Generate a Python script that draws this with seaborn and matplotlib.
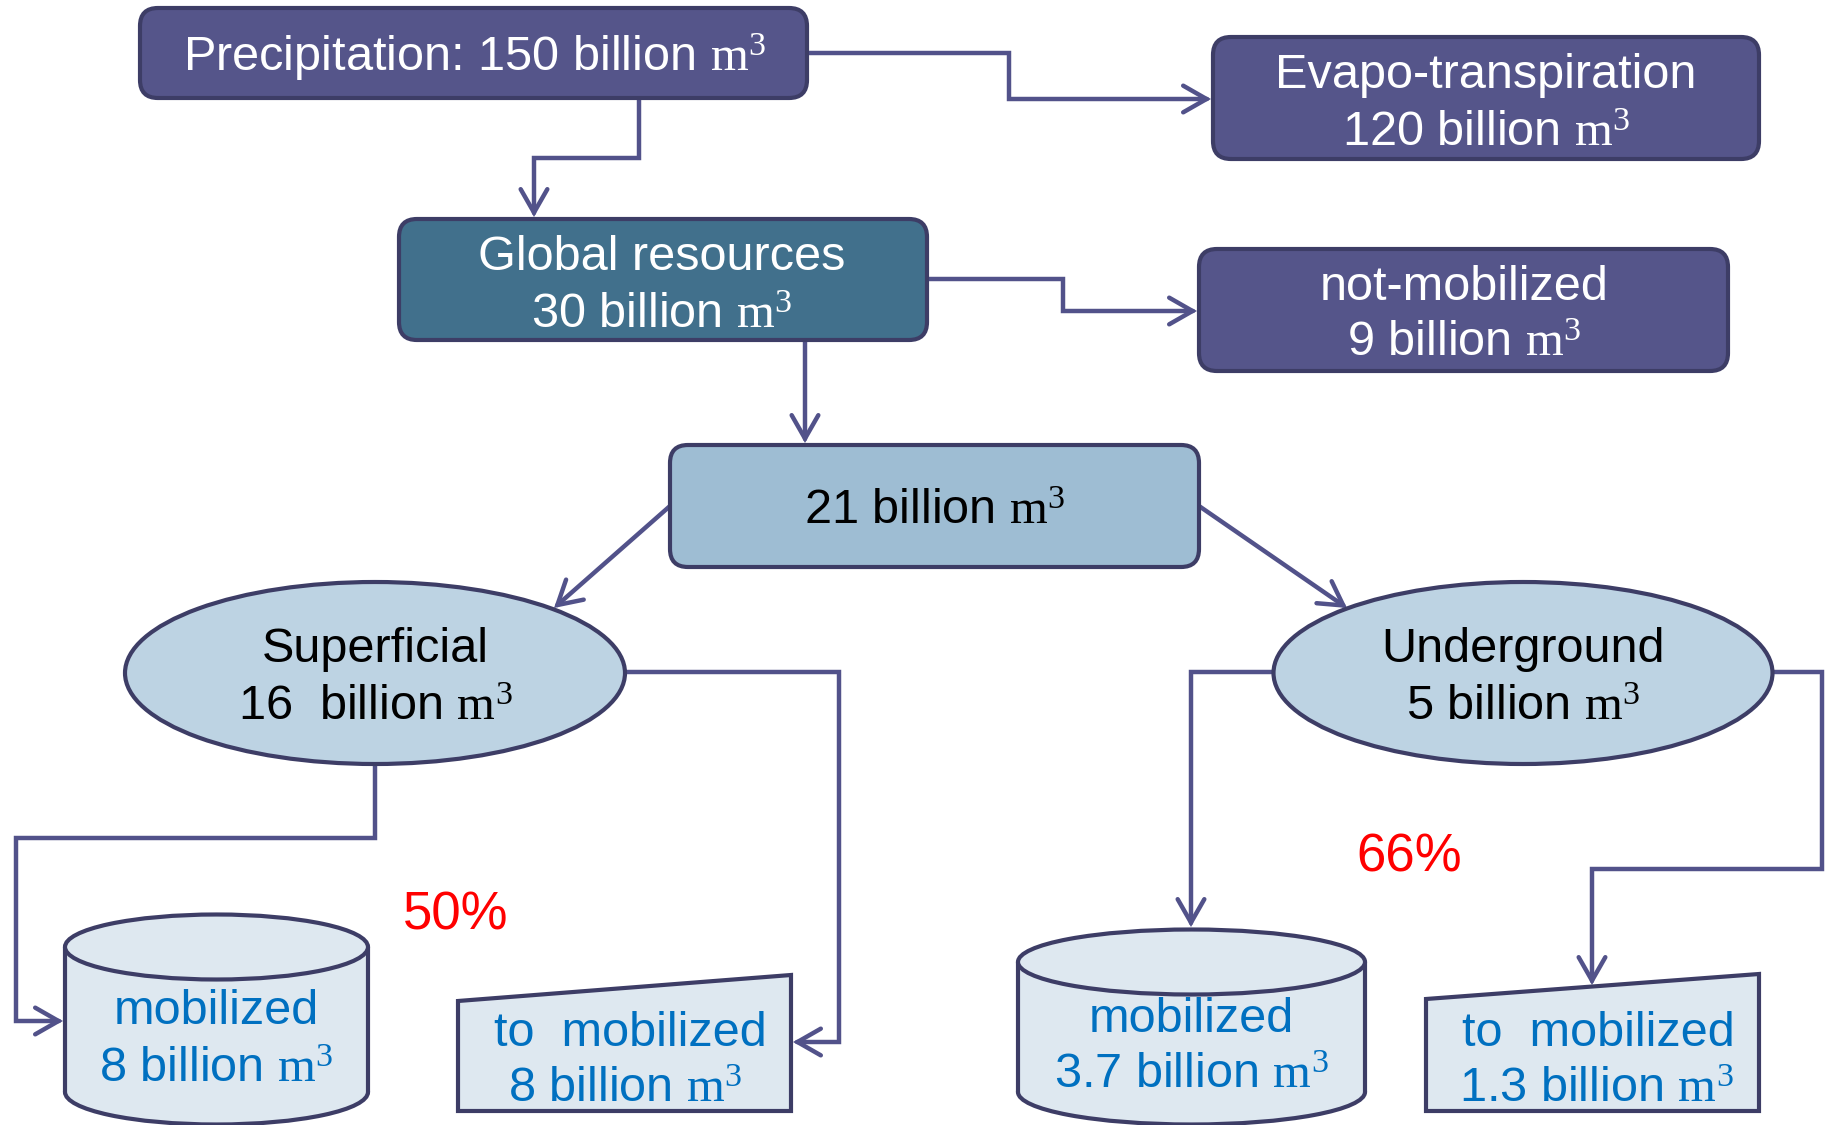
import matplotlib
matplotlib.use("Agg")
import matplotlib.pyplot as plt
import seaborn as sns
from matplotlib.patches import FancyBboxPatch, Ellipse, Rectangle, Polygon, FancyArrowPatch
from matplotlib.path import Path

sns.set_theme(style="white")
plt.rcParams['font.family'] = ['Liberation Sans', 'DejaVu Sans']
plt.rcParams['mathtext.fontset'] = 'custom'
plt.rcParams['mathtext.rm'] = 'Liberation Serif'

# ---- data ----
node_names = ["Precipitation", "Evapo-transpiration", "Global resources", "not-mobilized",
              "Mobilizable", "Superficial", "Underground", "mobilized", "to  mobilized",
              "mobilized", "to  mobilized"]
node_values = [150, 120, 30, 9, 21, 16, 5, 8, 8, 3.7, 1.3]
percent_labels = ["50%", "66%"]

UNIT = r"billion $\mathrm{m^3}$"
EDGE = "#3d3d66"
LINE = "#52528a"
DARK = "#55558a"
TEAL = "#41708c"
MID = "#9ebdd3"
LIGHT = "#bdd3e3"
PALE = "#dee8f0"
BLUE = "#0070c0"

fig = plt.figure(figsize=(18.33, 11.25), dpi=100)
ax = fig.add_axes([0, 0, 1, 1])
ax.set_xlim(0, 1833)
ax.set_ylim(1125, 0)
ax.axis("off")

FS = 35
DY = 7

def rbox(x0, y0, x1, y1, fc):
    p = FancyBboxPatch((x0, y0), x1 - x0, y1 - y0,
                       boxstyle="round,pad=0,rounding_size=18",
                       fc=fc, ec=EDGE, lw=3, zorder=3)
    ax.add_patch(p)

def txt(x, y, s, color, fs=FS):
    ax.text(x, y + DY, s, ha="center", va="center", fontsize=fs, color=color, zorder=5)

def fmt(v):
    return f"{v:g}"

def arrow(pts):
    path = Path(pts)
    a = FancyArrowPatch(path=path, arrowstyle="->,head_length=0.7,head_width=0.4",
                        mutation_scale=24, lw=3.2, color=LINE, zorder=2,
                        capstyle="round", joinstyle="miter")
    ax.add_patch(a)

def cylinder(x0, x1, ytop, ybot, h):
    cx = (x0 + x1) / 2
    w = x1 - x0
    ax.add_patch(Ellipse((cx, ybot), w, h, fc=PALE, ec=EDGE, lw=3, zorder=3))
    ax.add_patch(Rectangle((x0, ytop), w, ybot - ytop, fc=PALE, ec="none", zorder=3))
    ax.plot([x0, x0], [ytop, ybot], color=EDGE, lw=3, zorder=4)
    ax.plot([x1, x1], [ytop, ybot], color=EDGE, lw=3, zorder=4)
    ax.add_patch(Ellipse((cx, ytop), w, h, fc=PALE, ec=EDGE, lw=3, zorder=4))

def trapezoid(x0, x1, ytl, ytr, yb):
    ax.add_patch(Polygon([(x0, ytl), (x1, ytr), (x1, yb), (x0, yb)], closed=True,
                         fc=PALE, ec=EDGE, lw=3, zorder=3, joinstyle="miter"))

# ---- connectors ----
arrow([(807, 53), (1009, 53), (1009, 99), (1211, 99)])
arrow([(639, 98), (639, 158), (534, 158), (534, 217)])
arrow([(927, 279), (1063, 279), (1063, 311), (1197, 311)])
arrow([(805, 340), (805, 443)])
arrow([(670, 506), (554, 608)])
arrow([(1199, 506), (1347, 608)])
arrow([(375, 765), (375, 838), (16, 838), (16, 1021), (63, 1021)])
arrow([(625, 672), (839, 672), (839, 1042), (793, 1042)])
arrow([(1274, 672), (1191, 672), (1191, 927)])
arrow([(1773, 672), (1822, 672), (1822, 869), (1592, 869), (1592, 985)])

# ---- top boxes ----
rbox(140, 8, 807, 98, DARK)
txt(474, 50, f"{node_names[0]}: {fmt(node_values[0])} " + UNIT, "white")

rbox(1213, 37, 1759, 159, DARK)
txt(1486, 69, node_names[1], "white")
txt(1486, 126, f"{fmt(node_values[1])} " + UNIT, "white")

rbox(399, 219, 927, 340, TEAL)
txt(662, 251, node_names[2], "white")
txt(662, 308, f"{fmt(node_values[2])} " + UNIT, "white")

rbox(1199, 249, 1728, 371, DARK)
txt(1464, 281, node_names[3], "white")
txt(1464, 337, f"{fmt(node_values[3])} " + UNIT, "white")

rbox(670, 445, 1199, 567, MID)
txt(935, 504, f"{fmt(node_values[4])} " + UNIT, "black")

# ---- ellipses ----
ax.add_patch(Ellipse((375, 673), 500, 182, fc=LIGHT, ec=EDGE, lw=3, zorder=3))
txt(375, 642, node_names[5], "black")
txt(375, 701, f"{fmt(node_values[5])}  " + UNIT, "black")

ax.add_patch(Ellipse((1523, 673), 499, 182, fc=LIGHT, ec=EDGE, lw=3, zorder=3))
txt(1523, 642, node_names[6], "black")
txt(1523, 701, f"{fmt(node_values[6])} " + UNIT, "black")

# ---- bottom shapes ----
cylinder(65, 368, 947, 1092, 65)
txt(216, 1005, node_names[7], BLUE)
txt(216, 1062, f"{fmt(node_values[7])} " + UNIT, BLUE)

trapezoid(458, 791, 1001, 975, 1111)
txt(630, 1026, node_names[8], BLUE)
txt(625, 1083, f"{fmt(node_values[8])} " + UNIT, BLUE)

cylinder(1018, 1365, 962, 1092, 65)
txt(1191, 1012, node_names[9], BLUE)
txt(1191, 1068, f"{fmt(node_values[9])} " + UNIT, BLUE)

trapezoid(1426, 1759, 999, 974, 1111)
txt(1598, 1026, node_names[10], BLUE)
txt(1596, 1083, f"{fmt(node_values[10])} " + UNIT, BLUE)

# ---- percentages ----
ax.text(456, 915, percent_labels[0], ha="center", va="center", fontsize=38, color="#ff0000")
ax.text(1409, 857, percent_labels[1], ha="center", va="center", fontsize=38, color="#ff0000")

fig.savefig("out.png", dpi=100)
